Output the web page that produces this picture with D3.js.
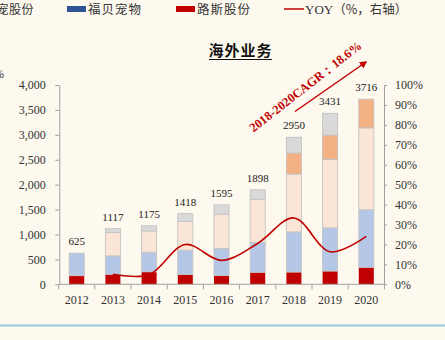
<!DOCTYPE html>
<html>
<head>
<meta charset="utf-8">
<script src="https://cdn.jsdelivr.net/npm/d3@7"></script>
<style>
  html, body { margin: 0; padding: 0; background: #fdf9ee; }
  svg { display: block; }
</style>
</head>
<body>
<svg id="chart" width="445" height="340"></svg>
<script>
// Overseas revenue by year, stacked by component, with YOY growth line
const years = ["2012","2013","2014","2015","2016","2017","2018","2019","2020"];
const totals = [625, 1117, 1175, 1418, 1595, 1898, 2950, 3431, 3716];
const segLuss   = [173, 200, 250, 195, 175, 240, 245, 265, 340];   // red
const segFubei  = [452, 370, 395, 490, 542, 600, 806, 868, 1156];  // light blue
const segPeach  = [0, 467, 425, 578, 690, 866, 1162, 1376, 1644];  // peach
const segOrange = [0, 0, 0, 0, 0, 0, 422, 487, 576];               // orange
const segGray   = [0, 80, 105, 155, 188, 192, 315, 435, 0];        // gray
const yoyYears  = ["2013","2014","2015","2016","2017","2018","2019","2020"];
const yoyValues = [0.050, 0.048, 0.200, 0.120, 0.205, 0.333, 0.163, 0.240];
const leftTicks  = [0, 500, 1000, 1500, 2000, 2500, 3000, 3500, 4000];
const rightTicks = [0, 0.1, 0.2, 0.3, 0.4, 0.5, 0.6, 0.7, 0.8, 0.9, 1.0];
const legendNames = ["中宠股份", "福贝宠物", "路斯股份", "YOY（%，右轴）"];
const titleText = "海外业务";
const cagrText = "2018-2020CAGR：18.6%";

const segKeys = ["luss", "fubei", "peach", "orange", "gray"];
const segColors = { luss: "#c00000", fubei: "#b4c7e7", peach: "#fbe5d6", orange: "#f4b183", gray: "#d9d9d9" };

const rows = years.map((y, i) => ({
  year: y, luss: segLuss[i], fubei: segFubei[i], peach: segPeach[i],
  orange: segOrange[i], gray: segGray[i]
}));

const svg = d3.select("#chart");
const serif = "'Liberation Serif', 'Times New Roman', serif";
const cjk = "'Noto Sans CJK SC', sans-serif";

const x = d3.scaleBand().domain(years).range([58.6, 384.4]).paddingInner(0.585).paddingOuter(0.2925);
const yL = d3.scaleLinear().domain([0, 4000]).range([284.3, 85]);
const yR = d3.scaleLinear().domain([0, 1]).range([284.3, 85]);

// stacked bars
const stack = d3.stack().keys(segKeys)(rows);
const gBars = svg.append("g");
stack.forEach(layer => {
  gBars.append("g").selectAll("rect").data(layer).join("rect")
    .attr("x", d => x(d.data.year))
    .attr("width", x.bandwidth())
    .attr("y", d => yL(d[1]))
    .attr("height", d => yL(d[0]) - yL(d[1]))
    .attr("fill", segColors[layer.key])
    .attr("stroke", layer.key === "luss" ? "none" : "#c4c4c4")
    .attr("stroke-width", 0.9)
    .attr("display", d => d[1] - d[0] > 0 ? null : "none");
});

// total labels
svg.append("g").selectAll("text").data(years).join("text")
  .attr("x", d => x(d) + x.bandwidth() / 2)
  .attr("y", (d, i) => yL(totals[i]) - 8)
  .attr("text-anchor", "middle")
  .attr("font-family", serif).attr("font-size", 11).attr("fill", "#222")
  .text((d, i) => totals[i]);

// axes
const axisColor = "#a0a0a0";
const gLeft = svg.append("g").attr("transform", "translate(59.3,0)")
  .call(d3.axisLeft(yL).tickValues(leftTicks).tickFormat(d3.format(",")).tickSize(4).tickPadding(9.5).tickSizeOuter(0));
const gRight = svg.append("g").attr("transform", "translate(384,0)")
  .call(d3.axisRight(yR).tickValues(rightTicks).tickFormat(d3.format(".0%")).tickSize(3).tickPadding(8).tickSizeOuter(0));
const gBottom = svg.append("g").attr("transform", "translate(0,284.3)")
  .call(d3.axisBottom(x).tickSize(0).tickPadding(11));
gBottom.select(".domain").remove();
// boundary tick marks on the category axis
const bounds = years.map(y => x(y) - x.step() * x.paddingInner() / 2).concat([x.range()[1]]);
gBottom.selectAll(".bnd").data(bounds).join("line")
  .attr("x1", d => d).attr("x2", d => d).attr("y1", 0).attr("y2", 5)
  .attr("stroke", axisColor);
gBottom.append("line").attr("x1", 59.3).attr("x2", 384).attr("stroke", axisColor);

[gLeft, gRight, gBottom].forEach(g => {
  g.selectAll(".domain").attr("stroke", axisColor);
  g.selectAll(".tick line").attr("stroke", axisColor);
  g.selectAll(".tick text").attr("font-family", serif).attr("font-size", 12).attr("fill", "#333");
});

// YOY line
const line = d3.line()
  .x((d, i) => x(yoyYears[i]) + x.bandwidth() / 2)
  .y(d => yR(d))
  .curve(d3.curveCatmullRom.alpha(0.5));
svg.append("path").datum(yoyValues).attr("d", line)
  .attr("fill", "none").attr("stroke", "#c00000").attr("stroke-width", 1.6);

// title
svg.append("text").attr("x", 240.5).attr("y", 56).attr("text-anchor", "middle")
  .attr("font-family", cjk).attr("font-size", 15).attr("font-weight", 700)
  .attr("letter-spacing", 1).attr("fill", "#111").text(titleText);
svg.append("line").attr("x1", 209).attr("x2", 272).attr("y1", 59.5).attr("y2", 59.5)
  .attr("stroke", "#111").attr("stroke-width", 1.2);

// CAGR annotation with arrow
const defs = svg.append("defs");
defs.append("marker").attr("id", "arrowHead").attr("viewBox", "0 0 10 10")
  .attr("refX", 8).attr("refY", 5).attr("markerWidth", 5).attr("markerHeight", 5)
  .attr("orient", "auto")
  .append("path").attr("d", "M0,0 L10,5 L0,10 z").attr("fill", "#c00000");
svg.append("line").attr("x1", 295).attr("y1", 111.5).attr("x2", 366).attr("y2", 62)
  .attr("stroke", "#c00000").attr("stroke-width", 1.5).attr("marker-end", "url(#arrowHead)");
svg.append("text").attr("transform", "translate(308,90) rotate(-38)")
  .attr("text-anchor", "middle").attr("font-family", serif).attr("font-size", 12.5)
  .attr("font-weight", 700).attr("fill", "#c00000").text(cagrText);

// legend (first entry runs past the left edge)
const lg = svg.append("g");
lg.append("rect").attr("x", -22).attr("y", 6).attr("width", 18).attr("height", 6).attr("fill", "#f4b183");
lg.append("text").attr("x", 34).attr("y", 14).attr("text-anchor", "end")
  .attr("font-family", cjk).attr("font-size", 12).attr("letter-spacing", 0.5).attr("fill", "#333").text(legendNames[0]);
lg.append("rect").attr("x", 67).attr("y", 6).attr("width", 19).attr("height", 6).attr("fill", "#2f5597");
lg.append("text").attr("x", 88).attr("y", 14).attr("font-family", cjk).attr("font-size", 12.5)
  .attr("letter-spacing", 1).attr("fill", "#333").text(legendNames[1]);
lg.append("rect").attr("x", 176).attr("y", 6).attr("width", 19).attr("height", 6).attr("fill", "#c00000");
lg.append("text").attr("x", 197).attr("y", 14).attr("font-family", cjk).attr("font-size", 12.5)
  .attr("letter-spacing", 1).attr("fill", "#333").text(legendNames[2]);
lg.append("line").attr("x1", 284).attr("x2", 304).attr("y1", 9).attr("y2", 9)
  .attr("stroke", "#c00000").attr("stroke-width", 1.5);
const yoyText = lg.append("text").attr("x", 305).attr("y", 14).attr("fill", "#333");
yoyText.append("tspan").attr("font-family", serif).attr("font-size", 13).text("YOY");
yoyText.append("tspan").attr("font-family", cjk).attr("font-size", 12.5).text(legendNames[3].slice(3));

// left axis unit (clipped at edge)
svg.append("text").attr("x", -6).attr("y", 78).attr("font-family", serif).attr("font-size", 12)
  .attr("fill", "#333").text("%");

// bottom rule
svg.append("line").attr("x1", 0).attr("x2", 445).attr("y1", 325.5).attr("y2", 325.5)
  .attr("stroke", "#92cddc").attr("stroke-width", 2);
</script>
</body>
</html>
